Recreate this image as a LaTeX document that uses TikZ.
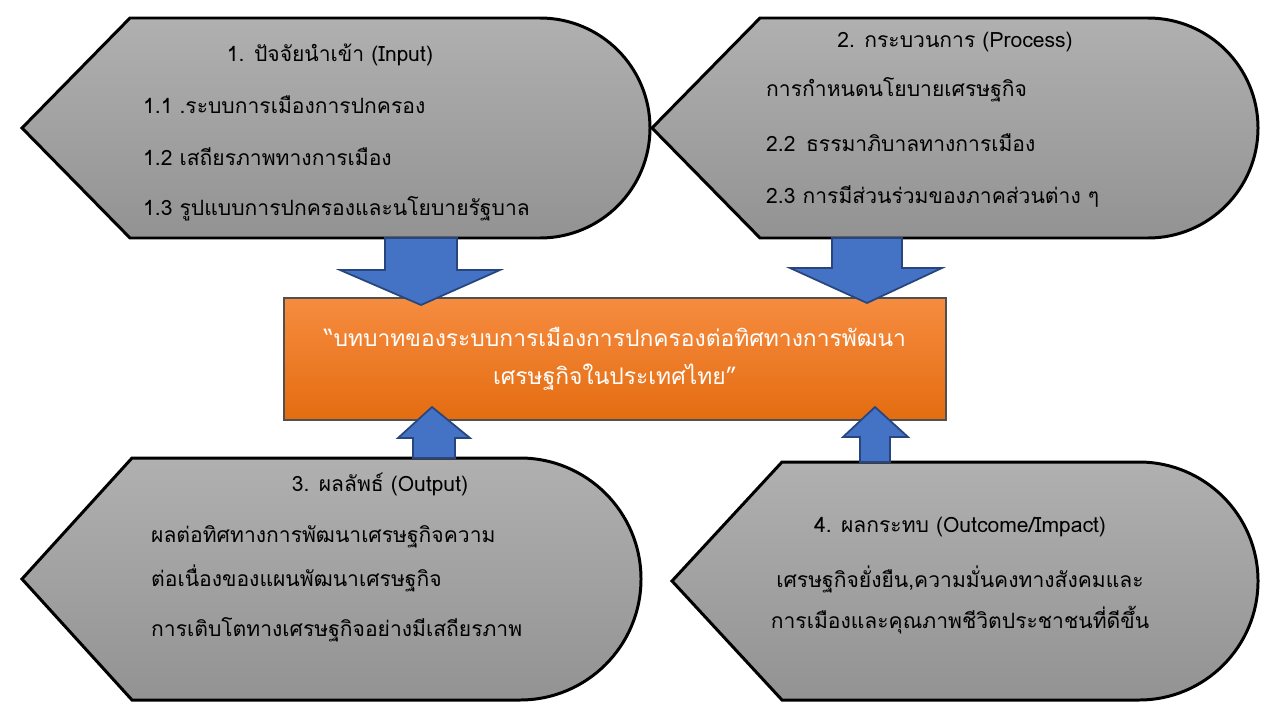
\documentclass[tikz,border=0pt]{standalone}
\usepackage{fontspec}
\setmainfont[Script=Thai]{Loma}
\usetikzlibrary{positioning}

\begin{document}
\begin{tikzpicture}[x=0.02cm,y=-0.02cm,
    font=\fontsize{12}{14}\selectfont,
    panel/.style={draw=black,line width=1.7pt,top color=gray!62,bottom color=gray!85},
    blockarrow/.style={fill={rgb,255:red,68;green,114;blue,196},draw={rgb,255:red,40;green,70;blue,125},line width=1pt},
    title node/.style={anchor=center},
    item node/.style={anchor=west}]

  \useasboundingbox (0,0) rectangle (1280,720);

  % the four panels
  \path[panel] (22,128) -- (130,18) -- (540,18)
    arc[start angle=-90,end angle=90,radius=110] -- (130,238) -- cycle;
  \path[panel] (652,128) -- (760,18) -- (1148,18)
    arc[start angle=-90,end angle=90,radius=110] -- (760,238) -- cycle;
  \path[panel] (22,579) -- (132,458) -- (520,458)
    arc[start angle=-90,end angle=90,radius=121] -- (132,700) -- cycle;
  \path[panel] (672,581) -- (782,462) -- (1139,462)
    arc[start angle=-90,end angle=90,radius=119] -- (782,700) -- cycle;

  % centre box
  \node[draw={rgb,255:red,80;green,80;blue,80},line width=0.8pt,
    top color={rgb,255:red,246;green,140;blue,64},bottom color={rgb,255:red,228;green,108;blue,16},
    minimum width=662*0.02cm,minimum height=122*0.02cm,align=center,
    font=\fontsize{13}{22}\selectfont,text=white] (role) at (615,359)
    {``บทบาทของระบบการเมืองการปกครองต่อทิศทางการพัฒนา\\เศรษฐกิจในประเทศไทย''};

  % block arrows
  \path[blockarrow] (385,238) -- (457,238) -- (457,270) -- (500,270) -- (421,305)
    -- (340,270) -- (385,270) -- cycle;
  \path[blockarrow] (832,238) -- (902,238) -- (902,268) -- (942,268) -- (867,303)
    -- (790,268) -- (832,268) -- cycle;
  \path[blockarrow] (413,458) -- (455,458) -- (455,438) -- (470,438) -- (432,407)
    -- (398,438) -- (413,438) -- cycle;
  \path[blockarrow] (860,462) -- (890,462) -- (890,437) -- (908,437) -- (875,407)
    -- (843,437) -- (860,437) -- cycle;

  % texts
  \node[title node] (input) at (330,55) {1. ปัจจัยนำเข้า (Input)};
  \node[item node] (in1) at (137,105) {1.1 .ระบบการเมืองการปกครอง};
  \node[item node] (in2) at (137,157) {1.2 เสถียรภาพทางการเมือง};
  \node[item node] (in3) at (137,209) {1.3 รูปแบบการปกครองและนโยบายรัฐบาล};

  \node[title node] (process) at (955,42) {2. กระบวนการ (Process)};
  \node[item node] (pr1) at (760,90) {การกำหนดนโยบายเศรษฐกิจ};
  \node[item node] (pr2) at (760,143) {2.2\enspace ธรรมาภิบาลทางการเมือง};
  \node[item node] (pr3) at (760,196) {2.3 การมีส่วนร่วมของภาคส่วนต่าง ๆ};

  \node[title node] (output) at (380,484) {3. ผลลัพธ์ (Output)};
  \node[item node] (ou1) at (145,537) {ผลต่อทิศทางการพัฒนาเศรษฐกิจความ};
  \node[item node] (ou2) at (145,578) {ต่อเนื่องของแผนพัฒนาเศรษฐกิจ};
  \node[item node] (ou3) at (145,630) {การเติบโตทางเศรษฐกิจอย่างมีเสถียรภาพ};

  \node[title node] (outcome) at (960,527) {4. ผลกระทบ (Outcome/Impact)};
  \node[title node] (oc1) at (960,579) {เศรษฐกิจยั่งยืน,ความมั่นคงทางสังคมและ};
  \node[title node] (oc2) at (960,620) {การเมืองและคุณภาพชีวิตประชาชนที่ดีขึ้น};
\end{tikzpicture}
\end{document}
